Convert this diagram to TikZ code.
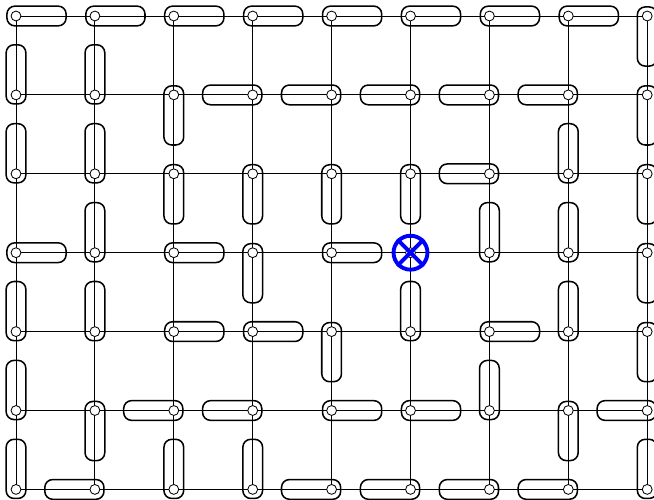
\documentclass[tikz,border=0pt]{standalone}
\usetikzlibrary{calc}

\tikzset{
    site/.style={circle, draw, fill=white, inner sep=0pt, minimum size=0.25cm, line width=0.6pt},
    bond/.style={line width=0.6pt},
    dimer/.style={draw, line width=1.1pt, rounded corners=0.2cm},
    vacancy/.style={circle, draw=blue, line width=2.8pt, inner sep=0pt, minimum size=0.86cm},
}

% dimer box: #1 column, #2 row, #3 direction (degrees)
\newcommand{\dimer}[3]{%
    \begin{scope}[shift={(p-#1-#2)}, rotate=#3]
        \draw[dimer] (-0.23cm,-0.25cm) rectangle (1.27cm,0.25cm);
    \end{scope}}

\begin{document}
\begin{tikzpicture}[x=2cm, y=2cm]
    \useasboundingbox (-0.2028,0.2028) rectangle (8.086,-6.134);

    % lattice points p-column-row
    \foreach \r in {0,...,6}
        \foreach \c in {0,...,8}
            \coordinate (p-\c-\r) at (\c,-\r);

    % lattice bonds
    \foreach \r in {0,...,6}
        \draw[bond] (p-0-\r) -- (p-8-\r);
    \foreach \c in {0,...,8}
        \draw[bond] (p-\c-0) -- (p-\c-6);

    % dimers, one row at a time (0 right, 90 up, 180 left, -90 down)
    \foreach \a [count=\c from 0] in {0,0,0,0,0,0,0,0,-90}
        \dimer{\c}{0}{\a};
    \foreach \a [count=\c from 0] in {90,90,-90,180,180,180,180,180,-90}
        \dimer{\c}{1}{\a};
    \foreach \a [count=\c from 0] in {90,90,-90,-90,-90,-90,180,90,-90}
        \dimer{\c}{2}{\a};
    \foreach \c/\a in {0/0,1/90,2/0,3/-90,4/0,6/90,7/90,8/-90}
        \dimer{\c}{3}{\a};
    \foreach \a [count=\c from 0] in {90,90,0,0,-90,90,0,90,-90}
        \dimer{\c}{4}{\a};
    \foreach \a [count=\c from 0] in {90,-90,180,180,0,0,90,-90,180}
        \dimer{\c}{5}{\a};
    \foreach \a [count=\c from 0] in {90,180,90,90,180,180,180,180,90}
        \dimer{\c}{6}{\a};

    % sites
    \foreach \r in {0,...,6}
        \foreach \c in {0,...,8}
            \node[site] (s-\c-\r) at (p-\c-\r) {};

    % vacancy
    \node[vacancy] (vac) at (p-5-3) {};
    \draw[blue, line width=2.8pt] (vac.45) -- (vac.225) (vac.135) -- (vac.315);
\end{tikzpicture}
\end{document}
